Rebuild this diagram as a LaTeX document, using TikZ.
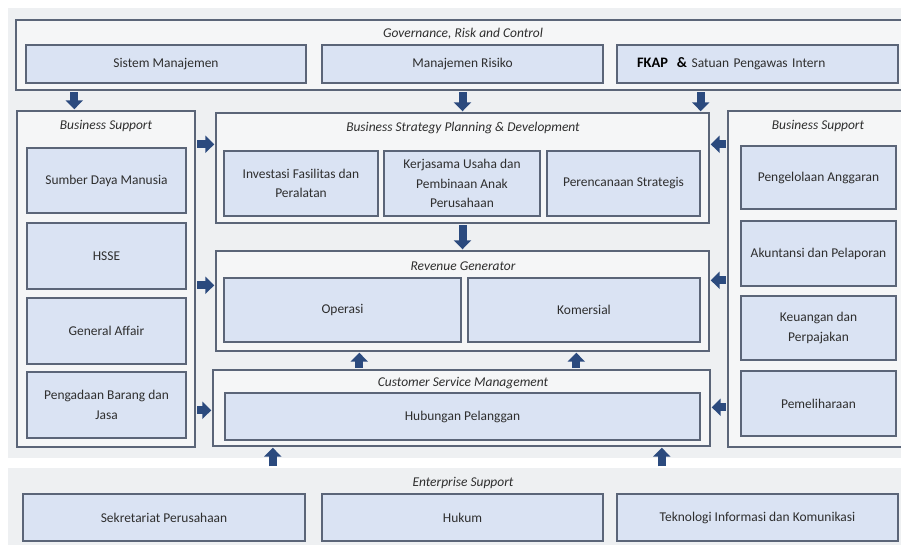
\documentclass[tikz,border=0pt]{standalone}
\usepackage{fontspec}
\setmainfont{Carlito}
\usetikzlibrary{arrows.meta}
\definecolor{bgpanel}{HTML}{EEF0F2}
\definecolor{cont}{HTML}{F5F6F7}
\definecolor{edge}{HTML}{5B6578}
\definecolor{boxfill}{HTML}{DAE3F3}
\definecolor{arrowc}{HTML}{2B4A7E}
\definecolor{txt}{HTML}{2E2E2E}
\tikzset{
  sz/.style 2 args={minimum width=#1bp, minimum height=#2bp},
  panel/.style={fill=bgpanel, draw=none, inner sep=0pt},
  container/.style={draw=edge, fill=cont, line width=1.4bp, inner sep=0pt},
  ubox/.style={draw=edge, fill=boxfill, line width=1.4bp, inner sep=0pt, align=center,
     text=txt, font=\fontsize{13.5}{19.5}\selectfont},
  ttl/.style={text=txt, font=\fontsize{13.5}{15}\selectfont\itshape, inner sep=0pt},
  barrow/.style={draw=arrowc, line width=8bp, -{Triangle[width=17bp,length=9bp]},
     shorten <=1.5bp, shorten >=1bp}
}
\begin{document}
\begin{tikzpicture}[x=1bp,y=-1bp]
\useasboundingbox (0,0) rectangle (901,545);
\clip (0,0) rectangle (901,545);
% background panels
\node[panel, sz={907}{450}] (topbg) at (461.5,233) {};
\node[panel, sz={907}{92}] (esp) at (461.5,514) {};
% Governance
\node[container, sz={899}{70}] (gov) at (465.5,55) {};
\node[ttl] (govt) at (463,34) {Governance, Risk and Control};
\node[ubox, sz={280}{38}] (sm) at (166,64) {Sistem Manajemen};
\node[ubox, sz={281}{38}] (mr) at (462.5,64) {Manajemen Risiko};
\node[ubox, sz={281}{38}, align=left, text width=241bp, inner xsep=20bp] (fk) at (757.5,64)
  {{\fontsize{14.5}{16}\selectfont\bfseries\color{black}FKAP \ \&} Satuan Pengawas Intern};
% Left business support
\node[container, sz={178}{336}] (bsl) at (106,279) {};
\node[ttl] (bslt) at (106,126) {Business Support};
\node[ubox, sz={159}{65}] (sdm) at (106.5,180.5) {Sumber Daya Manusia};
\node[ubox, sz={159}{66}] (hsse) at (106.5,256) {HSSE};
\node[ubox, sz={159}{66}] (ga) at (106.5,331) {General Affair};
\node[ubox, sz={159}{66}] (pbj) at (106.5,405) {Pengadaan Barang dan\\Jasa};
% Business strategy
\node[container, sz={493}{110}] (bspd) at (462.5,168) {};
\node[ttl] (bspdt) at (463,128) {Business Strategy Planning \& Development};
\node[ubox, sz={154}{65}] (inv) at (301,183.5) {Investasi Fasilitas dan\\Peralatan};
\node[ubox, sz={156}{65}] (kus) at (462,183.5) {Kerjasama Usaha dan\\Pembinaan Anak\\Perusahaan};
\node[ubox, sz={153}{65}] (ps) at (623.5,183.5) {Perencanaan Strategis};
% Revenue generator
\node[container, sz={493}{100}] (rg) at (462.5,301) {};
\node[ttl] (rgt) at (463,266) {Revenue Generator};
\node[ubox, sz={237}{64}] (op) at (342.5,310) {Operasi};
\node[ubox, sz={232}{64}] (kom) at (584,310) {Komersial};
% Customer service management
\node[container, sz={497}{76}] (csm) at (461.5,408) {};
\node[ttl] (csmt) at (463,383) {Customer Service Management};
\node[ubox, sz={475}{47}] (hp) at (462.5,416.5) {Hubungan Pelanggan};
% Right business support
\node[container, sz={187}{336}] (bsr) at (821.5,279) {};
\node[ttl] (bsrt) at (818,126) {Business Support};
\node[ubox, sz={155}{63}] (pa) at (818.5,177.5) {Pengelolaan Anggaran};
\node[ubox, sz={155}{65}] (ak) at (818.5,253.5) {Akuntansi dan Pelaporan};
\node[ubox, sz={155}{64}] (kp) at (818.5,328) {Keuangan dan\\Perpajakan};
\node[ubox, sz={155}{65}] (pm) at (818.5,403.5) {Pemeliharaan};
% Enterprise support
\node[ttl] (est) at (463,483) {Enterprise Support};
\node[ubox, sz={282}{47}] (sp) at (164,517.5) {Sekretariat Perusahaan};
\node[ubox, sz={281}{47}] (hk) at (462.5,517.5) {Hukum};
\node[ubox, sz={281}{47}] (tik) at (757.5,517.5) {Teknologi Informasi dan Komunikasi};
% arrows from governance
\coordinate (g1) at ([xshift=59bp]gov.south west);
\draw[barrow] (g1) -- (g1 |- bsl.north);
\coordinate (g2) at (gov.south -| mr);
\draw[barrow] (g2) -- (g2 |- bspd.north);
\coordinate (g3) at (gov.south -| ps.east);
\draw[barrow] (g3) -- (g3 |- bspd.north);
% strategy to revenue
\draw[barrow] (bspd.south) -- (rg.north);
% csm to revenue
\coordinate (u1) at ([xshift=147bp]csm.north west);
\draw[barrow] (u1) -- (u1 |- rg.south);
\coordinate (u2) at ([xshift=364bp]csm.north west);
\draw[barrow] (u2) -- (u2 |- rg.south);
% enterprise to csm
\coordinate (e1) at ([xshift=265bp]esp.north west);
\draw[barrow] (e1) -- (e1 |- csm.south);
\coordinate (e2) at ([xshift=654bp]esp.north west);
\draw[barrow] (e2) -- (e2 |- csm.south);
% left support arrows
\coordinate (l1) at ([yshift=-34bp]bsl.north east);
\draw[barrow] (l1) -- (l1 -| bspd.west);
\coordinate (l2) at ([yshift=-175bp]bsl.north east);
\draw[barrow] (l2) -- (l2 -| rg.west);
\coordinate (l3) at ([yshift=-300bp]bsl.north east);
\draw[barrow] (l3) -- (l3 -| csm.west);
% right support arrows
\coordinate (r1) at ([yshift=-34bp]bsr.north west);
\draw[barrow] (r1) -- (r1 -| bspd.east);
\coordinate (r2) at ([yshift=-170bp]bsr.north west);
\draw[barrow] (r2) -- (r2 -| rg.east);
\coordinate (r3) at ([yshift=-297bp]bsr.north west);
\draw[barrow] (r3) -- (r3 -| csm.east);
\end{tikzpicture}
\end{document}
